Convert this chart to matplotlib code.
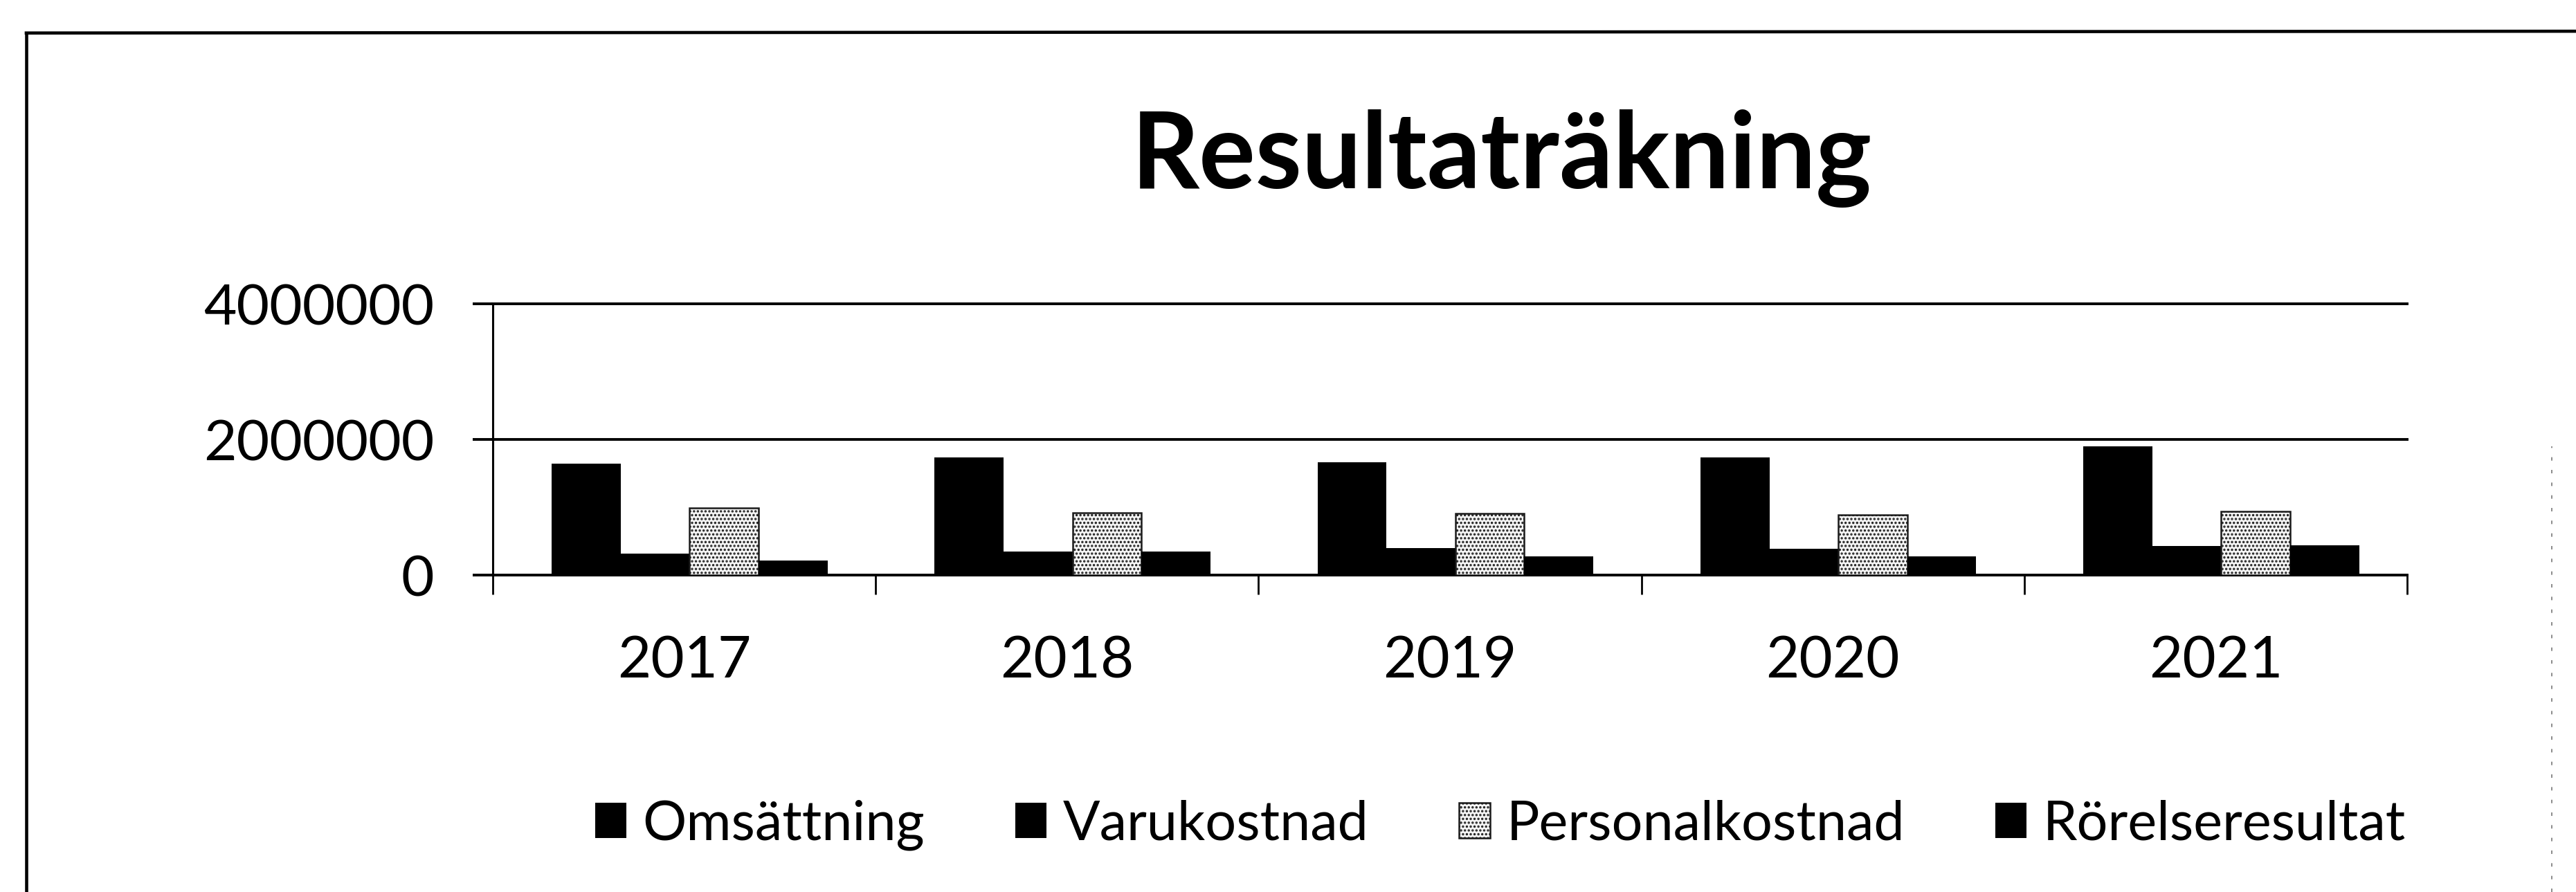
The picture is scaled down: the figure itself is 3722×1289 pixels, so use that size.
import numpy as np
import matplotlib.pyplot as plt
from matplotlib.lines import Line2D

plt.rcParams['font.family'] = ['Lato', 'DejaVu Sans']
plt.rcParams['hatch.linewidth'] = 1.6

years = ['2017', '2018', '2019', '2020', '2021']
series = ['Omsättning', 'Varukostnad', 'Personalkostnad', 'Rörelseresultat']
omsattning = [1645000, 1740000, 1660000, 1730000, 1900000]
varukostnad = [320000, 350000, 400000, 390000, 430000]
personalkostnad = [990000, 920000, 910000, 890000, 940000]
rorelseresultat = [210000, 350000, 280000, 280000, 440000]
yticks = [0, 2000000, 4000000]

fig = plt.figure(figsize=(37.22, 12.89), dpi=100)
ax = fig.add_axes([0.1913, 0.3553, 0.7432, 0.3041])

x = np.arange(len(years))
w = 0.18
values = [omsattning, varukostnad, personalkostnad, rorelseresultat]
for i, (name, vals) in enumerate(zip(series, values)):
    pos = x + (i - 1.5) * w + 0.014
    if name == 'Personalkostnad':
        ax.bar(pos, vals, w, facecolor='#f4f4f4', edgecolor='#1a1a1a',
               hatch='...', linewidth=1.8, label=name, zorder=3)
    else:
        ax.bar(pos, vals, w, color='black', label=name, zorder=3)

# gridlines
for v in yticks[1:]:
    ax.axhline(v, color='black', lw=2.8, clip_on=False, zorder=1)

ax.set_xlim(-0.5, len(years) - 0.5)
ax.set_ylim(0, 4000000)
ax.set_xticks(x)
ax.set_xticklabels(years, fontsize=60)
ax.set_xticks(np.arange(len(years) + 1) - 0.5, minor=True)
ax.tick_params(axis='x', which='major', length=0, pad=63)
ax.tick_params(axis='x', which='minor', length=20, width=2, direction='out')
ax.set_yticks(yticks)
ax.set_yticklabels([str(v) for v in yticks], fontsize=59)
ax.tick_params(axis='y', length=21, width=2.8, pad=40)

for s in ['top', 'right']:
    ax.spines[s].set_visible(False)
ax.spines['left'].set_linewidth(2.2)
ax.spines['bottom'].set_linewidth(2.8)

fig.text(0.583, 0.789, 'Resultaträkning', fontsize=110, fontweight='bold',
         ha='center', va='baseline')

ax.legend(loc='center', bbox_to_anchor=(0.5825, 0.0752), bbox_transform=fig.transFigure,
          ncol=4, frameon=False, fontsize=57, handlelength=0.57, handleheight=0.6,
          handletextpad=0.3, columnspacing=1.65)

# outer frame of the printed chart
fig.add_artist(Line2D([0.0102, 0.0102], [0, 0.963], color='black', lw=3.3))
fig.add_artist(Line2D([0.0102, 1.0], [0.963, 0.965], color='black', lw=3.3))
fig.add_artist(Line2D([0.9906, 0.9906], [0.0, 0.5], color='#777777', lw=1.2,
                      linestyle=(0, (3, 8))))

fig.savefig('out.png', dpi=100)
